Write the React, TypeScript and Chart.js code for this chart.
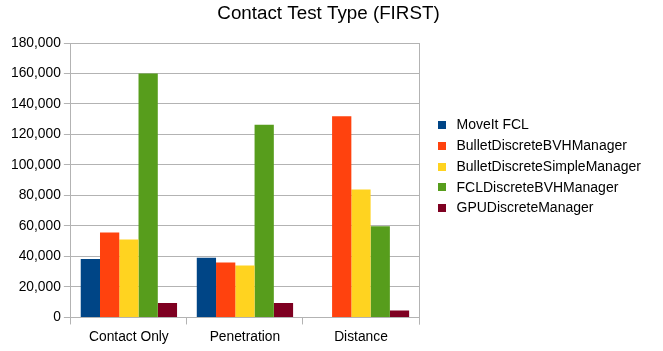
import React, { useEffect, useRef } from "react";
import { Chart, registerables } from "chart.js";

Chart.register(...registerables);

const categories = ["Contact Only", "Penetration", "Distance"];
const seriesNames = [
  "MoveIt FCL",
  "BulletDiscreteBVHManager",
  "BulletDiscreteSimpleManager",
  "FCLDiscreteBVHManager",
  "GPUDiscreteManager",
];
const moveitFcl = [38300, 39200, 0];
const bulletBvh = [55700, 36100, 132000];
const bulletSimple = [51200, 34000, 83900];
const fclBvh = [160000, 126300, 59800];
const gpuDiscrete = [9400, 9400, 4600];
const colors = ["#004586", "#ff420e", "#ffd320", "#579d1c", "#7e0021"];
const titleText = "Contact Test Type (FIRST)";
const yTicksMax = 180000;
const yTicksStep = 20000;

const FONT = "Liberation Sans";

const extrasPlugin = {
  id: "extras",
  afterDatasetsDraw(chart: any) {
    const { ctx, chartArea } = chart;
    ctx.save();
    ctx.strokeStyle = "#b3b3b3";
    ctx.lineWidth = 1;
    ctx.beginPath();
    ctx.moveTo(Math.round(chartArea.right) + 0.5, chartArea.top);
    ctx.lineTo(Math.round(chartArea.right) + 0.5, chartArea.bottom + 7);
    ctx.stroke();
    ctx.restore();
  },
  afterDraw(chart: any) {
    const { ctx, chartArea, width } = chart;
    ctx.save();
    // title
    ctx.font = `18.8px "${FONT}"`;
    ctx.textBaseline = "middle";
    ctx.textAlign = "center";
    ctx.fillStyle = "#000";
    ctx.fillText(titleText, width / 2 - 3, 13.5);
    // legend
    const boxX = chartArea.right + 19;
    const textX = boxX + 18.5;
    const firstY = 125;
    const step = 20.75;
    ctx.font = `14px "${FONT}"`;
    ctx.textAlign = "left";
    chart.data.datasets.forEach((ds: any, i: number) => {
      const y = firstY + i * step;
      ctx.fillStyle = ds.backgroundColor;
      ctx.fillRect(boxX, Math.round(y - 4), 8, 8);
      ctx.fillStyle = "#000";
      ctx.fillText(ds.label, textX, y + 0.5);
    });
    ctx.restore();
  },
};

export default function App() {
  const ref = useRef<HTMLCanvasElement>(null);
  useEffect(() => {
    const data = [moveitFcl, bulletBvh, bulletSimple, fclBvh, gpuDiscrete];
    const chart = new Chart(ref.current!, {
      type: "bar",
      data: {
        labels: categories,
        datasets: seriesNames.map((name, i) => ({
          label: name,
          data: data[i],
          backgroundColor: colors[i],
          borderWidth: 0,
          categoryPercentage: 0.83,
          barPercentage: 1.0,
        })),
      },
      options: {
        animation: false,
        responsive: false,
        maintainAspectRatio: false,
        layout: { padding: { left: 8, right: 244, top: 43, bottom: 2 } },
        plugins: {
          title: { display: false },
          legend: { display: false },
          tooltip: { enabled: false },
        },
        scales: {
          x: {
            grid: {
              offset: true,
              drawOnChartArea: false,
              drawTicks: true,
              tickLength: 7,
              color: "#b3b3b3",
            },
            border: { color: "#b3b3b3" },
            ticks: {
              color: "#000",
              font: { family: FONT, size: 13.8 },
              padding: 4,
            },
          },
          y: {
            min: 0,
            max: yTicksMax,
            grid: { color: "#b3b3b3", tickLength: 7 },
            border: { color: "#b3b3b3" },
            ticks: {
              stepSize: yTicksStep,
              color: "#000",
              font: { family: FONT, size: 13.8 },
              padding: 3,
            },
          },
        },
      },
      plugins: [extrasPlugin],
    });
    return () => chart.destroy();
  }, []);
  return (
    <div style={{ position: "fixed", left: 0, top: 0, width: 663, height: 351, background: "#fff" }}>
      <canvas ref={ref} width={663} height={351} />
    </div>
  );
}
